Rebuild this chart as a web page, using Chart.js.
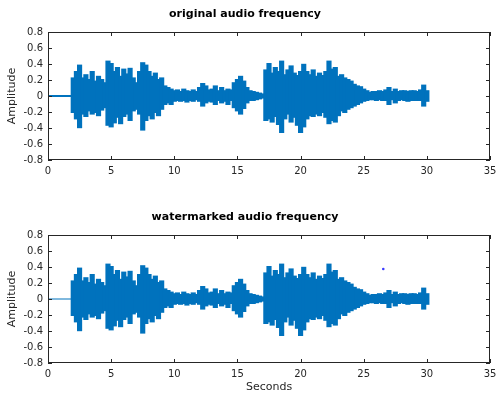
<!DOCTYPE html>
<html>
<head>
<meta charset="utf-8">
<script src="https://cdn.jsdelivr.net/npm/chart.js@4/dist/chart.umd.min.js"></script>
<style>
  body { margin: 0; background: #fff; }
  canvas { position: absolute; left: 0; }
  #original { top: 0; }
  #watermarked { top: 197px; }
</style>
</head>
<body>
<canvas id="original" width="496" height="197"></canvas>
<canvas id="watermarked" width="496" height="197"></canvas>
<script>
// envelope of the signal, every 0.25 s (min / max amplitude)
let seconds = [
  2, 2.25, 2.5, 2.75, 3, 3.25, 3.5, 3.75, 4, 4.25, 4.5, 4.75,
  5, 5.25, 5.5, 5.75, 6, 6.25, 6.5, 6.75, 7, 7.25, 7.5, 7.75,
  8, 8.25, 8.5, 8.75, 9, 9.25, 9.5, 9.75, 10, 10.25, 10.5, 10.75,
  11, 11.25, 11.5, 11.75, 12, 12.25, 12.5, 12.75, 13, 13.25, 13.5, 13.75,
  14, 14.25, 14.5, 14.75, 15, 15.25, 15.5, 15.75, 16, 16.25, 16.5, 16.75,
  17, 17.25, 17.5, 17.75, 18, 18.25, 18.5, 18.75, 19, 19.25, 19.5, 19.75,
  20, 20.25, 20.5, 20.75, 21, 21.25, 21.5, 21.75, 22, 22.25, 22.5, 22.75,
  23, 23.25, 23.5, 23.75, 24, 24.25, 24.5, 24.75, 25, 25.25, 25.5, 25.75,
  26, 26.25, 26.5, 26.75, 27, 27.25, 27.5, 27.75, 28, 28.25, 28.5, 28.75,
  29, 29.25, 29.5, 29.75, 30
];
let originalUpper = [
  0.22, 0.30, 0.38, 0.22, 0.26, 0.20, 0.30, 0.18, 0.24, 0.20, 0.16, 0.43,
  0.40, 0.30, 0.35, 0.24, 0.33, 0.27, 0.34, 0.22, 0.16, 0.30, 0.41, 0.38,
  0.30, 0.24, 0.28, 0.20, 0.22, 0.12, 0.10, 0.08, 0.06, 0.07, 0.05, 0.08,
  0.06, 0.05, 0.07, 0.05, 0.10, 0.15, 0.12, 0.07, 0.08, 0.12, 0.06, 0.10,
  0.06, 0.08, 0.07, 0.16, 0.20, 0.24, 0.18, 0.10, 0.06, 0.05, 0.04, 0.03,
  0.02, 0.32, 0.40, 0.28, 0.35, 0.30, 0.43, 0.26, 0.32, 0.37, 0.28, 0.25,
  0.30, 0.39, 0.30, 0.26, 0.32, 0.24, 0.28, 0.25, 0.30, 0.43, 0.33, 0.35,
  0.24, 0.26, 0.22, 0.20, 0.18, 0.14, 0.12, 0.11, 0.08, 0.06, 0.04, 0.05,
  0.05, 0.06, 0.05, 0.07, 0.10, 0.05, 0.08, 0.05, 0.06, 0.06, 0.05, 0.06,
  0.06, 0.05, 0.07, 0.13, 0.06
];
let originalLower = [
  -0.20, -0.28, -0.39, -0.22, -0.25, -0.18, -0.22, -0.20, -0.24, -0.17, -0.14, -0.36,
  -0.38, -0.33, -0.26, -0.34, -0.25, -0.22, -0.30, -0.18, -0.16, -0.22, -0.42, -0.30,
  -0.24, -0.28, -0.20, -0.24, -0.16, -0.10, -0.08, -0.10, -0.06, -0.05, -0.06, -0.05,
  -0.07, -0.05, -0.06, -0.04, -0.06, -0.12, -0.08, -0.06, -0.07, -0.10, -0.05, -0.08,
  -0.06, -0.10, -0.05, -0.14, -0.18, -0.22, -0.15, -0.08, -0.05, -0.05, -0.04, -0.03,
  -0.02, -0.30, -0.28, -0.32, -0.25, -0.35, -0.45, -0.28, -0.22, -0.32, -0.26, -0.36,
  -0.45, -0.38, -0.28, -0.24, -0.25, -0.22, -0.24, -0.20, -0.26, -0.34, -0.30, -0.32,
  -0.24, -0.18, -0.20, -0.16, -0.14, -0.12, -0.10, -0.08, -0.06, -0.05, -0.04, -0.04,
  -0.05, -0.04, -0.05, -0.05, -0.10, -0.04, -0.08, -0.05, -0.04, -0.05, -0.06, -0.05,
  -0.05, -0.05, -0.05, -0.12, -0.06
];
// the watermarked signal looks the same as the original in the picture
let watermarkedUpper = originalUpper.slice();
let watermarkedLower = originalLower.slice();

// silent lead-in before the sound starts
let leadSeconds = [0, 2];
let leadLevel = [0, 0];

// the single stray point in the watermarked plot
let markSeconds = [26.55];
let markLevel = [0.375];

const BLUE = 'rgb(0,114,189)';
const INK = '#262626';

Chart.defaults.font.family = 'DejaVu Sans';
Chart.defaults.color = INK;

// MATLAB-style box with inward ticks on all four sides
const boxPlugin = {
  id: 'box',
  afterDatasetsDraw(chart) {
    let { ctx, chartArea: a, scales: { x, y } } = chart;
    ctx.save();
    ctx.strokeStyle = INK;
    ctx.lineWidth = 1;
    ctx.strokeRect(a.left + 0.5, a.top + 0.5, a.right - a.left - 1, a.bottom - a.top - 1);
    ctx.beginPath();
    x.ticks.forEach(t => {
      let px = Math.round(x.getPixelForValue(t.value)) + 0.5;
      ctx.moveTo(px, a.bottom); ctx.lineTo(px, a.bottom - 4);
      ctx.moveTo(px, a.top); ctx.lineTo(px, a.top + 4);
    });
    y.ticks.forEach(t => {
      let py = Math.round(y.getPixelForValue(t.value)) + 0.5;
      ctx.moveTo(a.left, py); ctx.lineTo(a.left + 4, py);
      ctx.moveTo(a.right, py); ctx.lineTo(a.right - 4, py);
    });
    ctx.stroke();
    ctx.restore();
  }
};

function makeChart(id, title, upper, lower, opts) {
  let datasets = [
    {
      type: 'bar',
      data: seconds.map((s, i) => ({ x: s, y: [lower[i], upper[i]] })),
      backgroundColor: BLUE,
      borderColor: BLUE,
      borderWidth: 0,
      inflateAmount: 1,
      borderSkipped: false,
      barPercentage: 1,
      categoryPercentage: 1
    },
    {
      type: 'line',
      data: leadSeconds.map((s, i) => ({ x: s, y: leadLevel[i] })),
      borderColor: BLUE,
      borderWidth: opts.leadWidth,
      pointRadius: 0
    }
  ];
  if (opts.marks) {
    datasets.push({
      type: 'scatter',
      data: markSeconds.map((s, i) => ({ x: s, y: markLevel[i] })),
      backgroundColor: '#3a3aff',
      borderWidth: 0,
      pointRadius: 1.3
    });
  }

  return new Chart(document.getElementById(id), {
    type: 'bar',
    data: { datasets: datasets },
    options: {
      responsive: false,
      animation: false,
      events: [],
      layout: { padding: { left: 0, right: 6, top: 0, bottom: 0 } },
      plugins: {
        legend: { display: false },
        tooltip: { enabled: false },
        title: {
          display: true,
          text: title,
          color: '#000',
          font: { size: 11, weight: 'bold', lineHeight: 1.2 },
          padding: { top: opts.titleTop, bottom: opts.titleBottom }
        }
      },
      scales: {
        x: {
          type: 'linear',
          min: 0,
          max: 35,
          offset: false,
          grid: { display: false, drawTicks: false },
          border: { display: false },
          ticks: { stepSize: 5, padding: 5, maxRotation: 0, font: { size: 10 } },
          title: {
            display: !!opts.xTitle,
            text: opts.xTitle || '',
            font: { size: 11, lineHeight: 1.2 },
            padding: { top: 0, bottom: 0 }
          },
          afterFit(s) {
            s.height = opts.xHeight;
            s.paddingLeft = 0;
            s.paddingRight = 0;
          }
        },
        y: {
          min: -0.8,
          max: 0.8,
          grid: { display: false, drawTicks: false },
          border: { display: false },
          ticks: { stepSize: 0.2, padding: 5, font: { size: 10 } },
          title: {
            display: true,
            text: 'Amplitude',
            font: { size: 11, lineHeight: 1.2 },
            padding: { top: 5.4, bottom: 0 }
          },
          afterFit(s) {
            s.width = 48;
            s.paddingTop = 0;
            s.paddingBottom = 0;
          }
        }
      }
    },
    plugins: [boxPlugin]
  });
}

makeChart('original', 'original audio frequency', originalUpper, originalLower,
  { titleTop: 7.4, titleBottom: 11.4, xHeight: 37, leadWidth: 2 });
makeChart('watermarked', 'watermarked audio frequency', watermarkedUpper, watermarkedLower,
  { titleTop: 13.4, titleBottom: 11.4, xHeight: 31, leadWidth: 1, xTitle: 'Seconds', marks: true });
</script>
</body>
</html>
